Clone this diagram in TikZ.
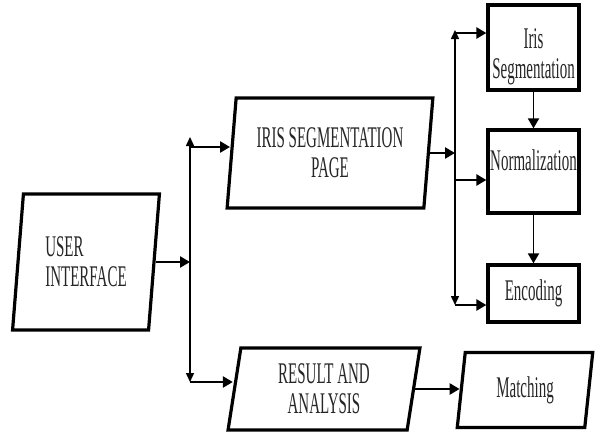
\documentclass[tikz,border=0pt]{standalone}
\usepackage{fontspec}
\newfontfamily\flowfont[FakeStretch=0.5]{Liberation Serif}
\usetikzlibrary{arrows.meta}
\usetikzlibrary{shapes.geometric}
\usetikzlibrary{positioning}

\begin{document}
\begin{tikzpicture}[x=1pt,y=-1pt,
    box/.style={draw, line width=3.2pt, font=\flowfont\fontsize{30}{30}\selectfont, text=black!85, align=center, inner sep=0pt},
    slantbox/.style={box, trapezium, trapezium left angle=82, trapezium right angle=98, trapezium stretches=true},
    flow/.style={-{Triangle[length=10pt,width=11pt]}, line width=2.4pt},
    bus/.style={{Triangle[length=9pt,width=8pt]}-{Triangle[length=9pt,width=8pt]}, line width=1.5pt}]
    \useasboundingbox (0,0) rectangle (595,439);
    \node[slantbox, align=left, minimum width=148pt, minimum height=136pt] (userInterface) at (86,262) {USER\\INTERFACE};
    \node[slantbox, minimum width=206pt, minimum height=110pt] (irisPage) at (330,153) {IRIS SEGMENTATION\\PAGE};
    \node[slantbox, minimum width=192pt, minimum height=82pt] (resultAnalysis) at (324,389) {RESULT AND\\ANALYSIS};
    \node[slantbox, minimum width=136pt, minimum height=75pt] (matching) at (525,390) {Matching};
    \node[box, minimum width=91pt, minimum height=85pt] (irisSeg) at (533.5,47.5) {\rule{0pt}{38pt}Iris\\Segmentation};
    \node[box, minimum width=91pt, minimum height=83pt, text depth=22pt] (normalization) at (533.5,171.5) {Normalization};
    \node[box, minimum width=91pt, minimum height=57pt] (encoding) at (533.5,293.5) {Encoding};
    \coordinate (leftBusTop) at (190,137);
    \coordinate (leftBusBot) at (190,382);
    \coordinate (toPage) at (190,147);
    \coordinate (rightBusTop) at (455,30);
    \coordinate (rightBusBot) at (455,305);
    \coordinate (toSeg) at (455,33);
    \coordinate (toNorm) at (455,180);
    \draw[bus] (leftBusTop) -- (leftBusBot);
    \draw[bus] (rightBusTop) -- (rightBusBot);
    \draw[flow] (userInterface.east) -- (userInterface.east -| leftBusTop);
    \draw[flow] (toPage) -- (toPage -| irisPage.west);
    \draw[flow] (leftBusBot) -- (leftBusBot -| resultAnalysis.west);
    \draw[flow] (irisPage.east) -- (irisPage.east -| rightBusTop);
    \draw[flow] (toSeg) -- (toSeg -| irisSeg.west);
    \draw[flow] (toNorm) -- (toNorm -| normalization.west);
    \draw[flow] (rightBusBot) -- (rightBusBot -| encoding.west);
    \draw[flow, line width=1.8pt] (irisSeg) -- (normalization);
    \draw[flow, line width=1.8pt] (normalization) -- (encoding);
    \draw[flow] (resultAnalysis.east) -- (resultAnalysis.east -| matching.west);
\end{tikzpicture}
\end{document}
